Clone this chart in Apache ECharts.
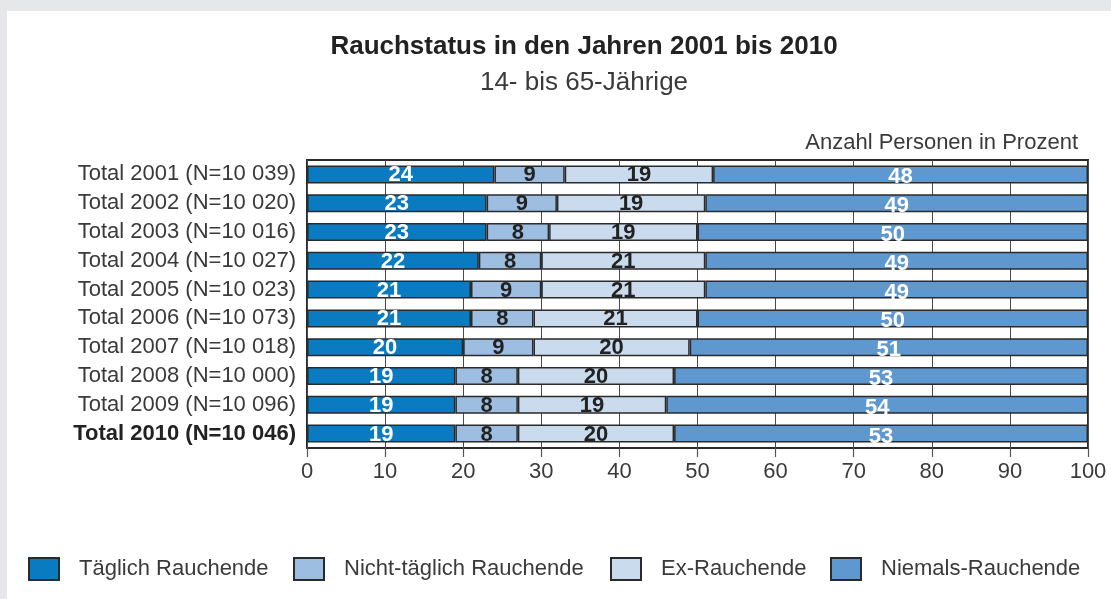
<!DOCTYPE html>
<html>
<head>
<meta charset="utf-8">
<script src="https://cdn.jsdelivr.net/npm/echarts@6/dist/echarts.min.js"></script>
<style>
  html, body { margin: 0; padding: 0; }
  #wrap { position: relative; width: 1111px; height: 599px; background: #e6e7e9; overflow: hidden; }
  #panel { position: absolute; left: 7px; top: 11px; width: 1104px; height: 588px; background: #ffffff; }
  #chart { position: absolute; left: 0; top: 0; width: 1111px; height: 599px; }
</style>
</head>
<body>
<div id="wrap"><div id="panel"></div><div id="chart"></div></div>
<script>
const categories = [
  'Total 2001 (N=10 039)', 'Total 2002 (N=10 020)', 'Total 2003 (N=10 016)',
  'Total 2004 (N=10 027)', 'Total 2005 (N=10 023)', 'Total 2006 (N=10 073)',
  'Total 2007 (N=10 018)', 'Total 2008 (N=10 000)', 'Total 2009 (N=10 096)',
  'Total 2010 (N=10 046)'
];
const seriesNames = ['Täglich Rauchende', 'Nicht-täglich Rauchende', 'Ex-Rauchende', 'Niemals-Rauchende'];
const taeglich      = [24, 23, 23, 22, 21, 21, 20, 19, 19, 19];
const nichtTaeglich = [9, 9, 8, 8, 9, 8, 9, 8, 8, 8];
const exRauchende   = [19, 19, 19, 21, 21, 21, 20, 20, 19, 20];
const niemals       = [48, 49, 50, 49, 49, 50, 51, 53, 54, 53];
const titleText = 'Rauchstatus in den Jahren 2001 bis 2010';
const subtitleText = '14- bis 65-Jährige';
const unitText = 'Anzahl Personen in Prozent';

const FONT = '"Liberation Sans", Arial, sans-serif';
const colors = ['#0b7bc1', '#9dbde1', '#cadbee', '#5e98cf'];
const labelColors = ['#ffffff', '#222222', '#222222', '#ffffff'];
const labelOffsets = [[0, 1], [0, 1], [0, 1], [0, 3]];
const values = [taeglich, nichtTaeglich, exRauchende, niemals];
const legendLeft = [28, 293, 610, 830];

const chart = echarts.init(document.getElementById('chart'), null, { renderer: 'canvas' });

const series = seriesNames.map((name, i) => ({
  name: name,
  type: 'bar',
  stack: 'total',
  barWidth: 18,
  data: values[i],
  itemStyle: { color: colors[i], borderColor: '#2a2a2a', borderWidth: 1.5 },
  label: {
    show: true,
    position: 'inside',
    offset: labelOffsets[i],
    color: labelColors[i],
    fontFamily: FONT,
    fontWeight: 'bold',
    fontSize: 22
  },
  emphasis: { disabled: true }
}));

const legends = seriesNames.map((name, i) => ({
  data: [name],
  left: legendLeft[i],
  top: 557,
  padding: 0,
  orient: 'horizontal',
  itemWidth: 30,
  itemHeight: 22,
  icon: 'rect',
  selectedMode: false,
  itemStyle: { borderColor: '#2a2a2a', borderWidth: 2 },
  textStyle: { fontFamily: FONT, fontSize: 22, color: '#3a3a3a', padding: [0, 0, 0, 15] }
}));

chart.setOption({
  animation: false,
  backgroundColor: 'transparent',
  textStyle: { fontFamily: FONT },
  graphic: [
    { type: 'text', x: 584, y: 47, style: { text: titleText, fontFamily: FONT, fontWeight: 'bold', fontSize: 26, fill: '#222222', textAlign: 'center', textVerticalAlign: 'middle' } },
    { type: 'text', x: 584, y: 83, style: { text: subtitleText, fontFamily: FONT, fontSize: 26, fill: '#3a3a3a', textAlign: 'center', textVerticalAlign: 'middle' } },
    { type: 'text', x: 1078, y: 143, style: { text: unitText, fontFamily: FONT, fontSize: 22, fill: '#3a3a3a', textAlign: 'right', textVerticalAlign: 'middle' } }
  ],
  legend: legends,
  grid: {
    left: 307, top: 160, width: 781, height: 288,
    show: true, borderColor: '#2a2a2a', borderWidth: 2, backgroundColor: '#ffffff',
    containLabel: false
  },
  xAxis: {
    type: 'value',
    min: 0, max: 100, interval: 10,
    axisLine: { show: false },
    axisTick: { show: true, length: 9, lineStyle: { color: '#555555', width: 1.2 } },
    splitLine: { show: true, lineStyle: { color: '#4a4a4a', width: 1 } },
    axisLabel: { margin: 13, fontFamily: FONT, fontSize: 22, color: '#3a3a3a' }
  },
  yAxis: {
    type: 'category',
    inverse: true,
    data: categories,
    axisLine: { show: false },
    axisTick: { show: false },
    axisLabel: {
      margin: 11,
      fontFamily: FONT, fontSize: 22, color: '#3a3a3a',
      formatter: function (v, idx) {
        return idx === categories.length - 1 ? '{b|' + v + '}' : v;
      },
      rich: { b: { fontFamily: FONT, fontSize: 22, fontWeight: 'bold', color: '#222222' } }
    }
  },
  series: series
});
</script>
</body>
</html>
